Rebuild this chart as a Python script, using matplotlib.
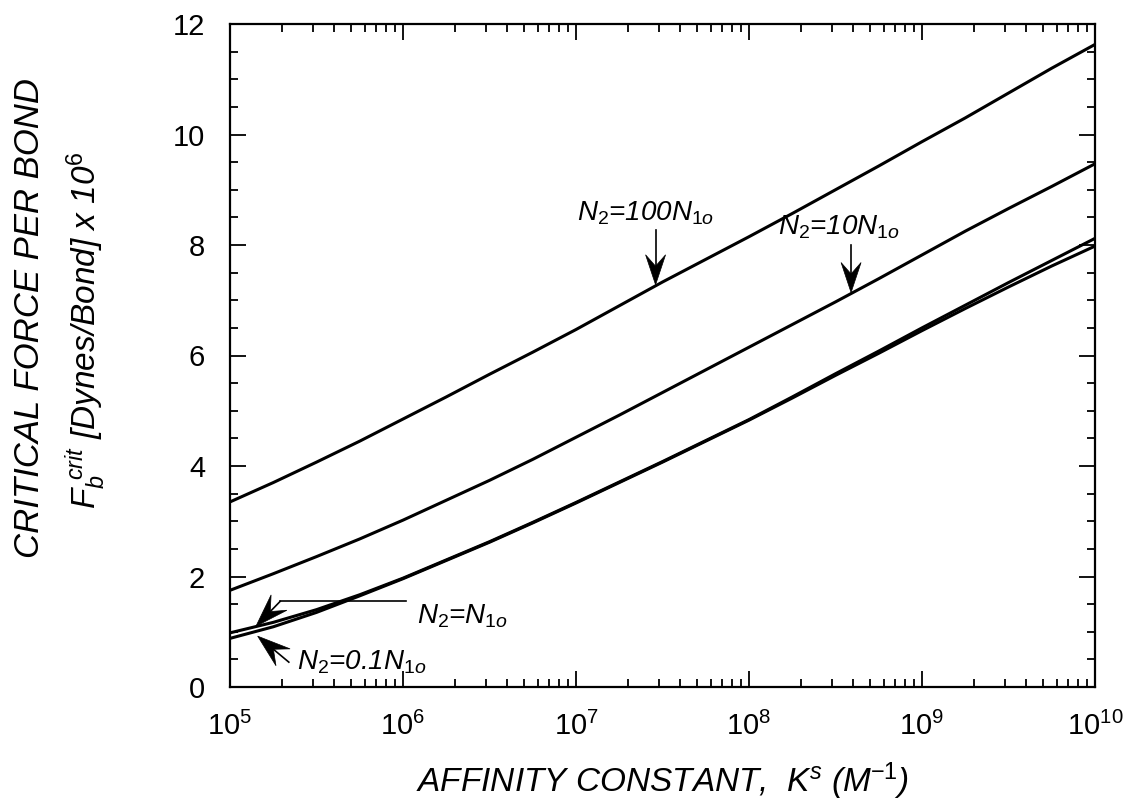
import numpy as np
import matplotlib
matplotlib.use("Agg")
import matplotlib.pyplot as plt
from matplotlib.ticker import MultipleLocator, LogLocator, NullFormatter
from matplotlib.patches import Polygon
from matplotlib.transforms import IdentityTransform

plt.rcParams['font.family'] = ['Liberation Sans', 'DejaVu Sans']
plt.rcParams['mathtext.fontset'] = 'custom'
plt.rcParams['mathtext.rm'] = 'Liberation Sans'
plt.rcParams['mathtext.it'] = 'Liberation Sans:italic'
plt.rcParams['mathtext.bf'] = 'Liberation Sans:bold'

# ---- data ----
log_K = [5.0, 5.25, 5.5, 5.75, 6.0, 6.25, 6.5, 6.75, 7.0, 7.25, 7.5,
         7.75, 8.0, 8.25, 8.5, 8.75, 9.0, 9.25, 9.5, 9.75, 10.0]
F_100N = [3.35, 3.70, 4.07, 4.45, 4.85, 5.25, 5.66, 6.06, 6.47, 6.90, 7.33,
          7.74, 8.15, 8.57, 9.00, 9.43, 9.87, 10.30, 10.75, 11.20, 11.63]
F_10N = [1.75, 2.05, 2.36, 2.68, 3.02, 3.38, 3.74, 4.12, 4.52, 4.92, 5.33,
         5.74, 6.15, 6.56, 6.97, 7.39, 7.82, 8.25, 8.66, 9.06, 9.47]
F_1N = [0.98, 1.17, 1.40, 1.67, 1.97, 2.30, 2.63, 2.98, 3.34, 3.71, 4.08,
        4.46, 4.84, 5.25, 5.67, 6.08, 6.50, 6.91, 7.32, 7.72, 8.12]
F_01N = [0.88, 1.09, 1.35, 1.65, 1.96, 2.29, 2.62, 2.97, 3.33, 3.70, 4.07,
         4.45, 4.83, 5.23, 5.64, 6.04, 6.45, 6.85, 7.24, 7.62, 7.98]

K = [10 ** v for v in log_K]

W_PX, H_PX = 1126, 807
fig = plt.figure(figsize=(W_PX / 100, H_PX / 100), dpi=100)
L, R, T, B = 230, 1095, 24, 687
ax = fig.add_axes([L / W_PX, 1 - B / H_PX, (R - L) / W_PX, (B - T) / H_PX])

for series in (F_100N, F_10N, F_1N, F_01N):
    ax.plot(K, series, color='black', lw=2.2, solid_capstyle='butt')

ax.set_xscale('log')
ax.set_xlim(1e5, 1e10)
ax.set_ylim(0, 12)
ax.xaxis.set_major_locator(LogLocator(base=10, numticks=20))
ax.xaxis.set_minor_locator(LogLocator(base=10, subs=np.arange(2, 10), numticks=100))
ax.xaxis.set_minor_formatter(NullFormatter())
ax.yaxis.set_major_locator(MultipleLocator(2))
ax.yaxis.set_minor_locator(MultipleLocator(0.5))

ax.tick_params(which='both', direction='in', top=True, right=True, width=1.3, color='black')
ax.tick_params(which='major', length=11.5, labelsize=21, pad=18)
ax.tick_params(which='minor', length=6)
for s in ax.spines.values():
    s.set_linewidth(1.6)

ax.set_xlabel(r'AFFINITY CONSTANT,  K$^{s}$ (M$^{-1}$)', fontsize=24, style='italic',
              labelpad=14)

fig.text(30 / W_PX, 1 - 318 / H_PX, 'CRITICAL FORCE PER BOND', rotation=90, fontsize=25,
         style='italic', ha='center', va='center')
fig.text(86 / W_PX, 1 - 330 / H_PX,
         r'$F_{b}^{\ crit}$ [Dynes/Bond] x 10$^{6}$', rotation=90, fontsize=24,
         style='italic', ha='center', va='center')

plt.rcParams['mathtext.default'] = 'it'
ann_fs = 20


def barbed_arrow(tail, tip, head_len=30, half_w=10, notch=0.62, lw=1.2):
    """Draw a thin shaft with a filled, swept-back arrowhead (pixel sizes)."""
    p0 = ax.transData.transform(tail)
    p1 = ax.transData.transform(tip)
    d = p1 - p0
    d = d / np.hypot(*d)
    n = np.array([-d[1], d[0]])
    base = p1 - head_len * d
    notch_pt = p1 - notch * head_len * d
    shaft_end = ax.transData.inverted().transform(notch_pt)
    ax.plot([tail[0], shaft_end[0]], [tail[1], shaft_end[1]], color='black', lw=lw)
    poly = Polygon([p1, base + half_w * n, notch_pt, base - half_w * n], closed=True,
                   facecolor='black', edgecolor='black', lw=0.5,
                   transform=IdentityTransform())
    fig.add_artist(poly)


barbed_arrow((10 ** 7.46, 8.28), (10 ** 7.46, 7.28))
ax.text(10 ** 7.40, 8.32, r'$N_{2}$=100$N_{1o}$', fontsize=ann_fs, style='italic',
        ha='center', va='bottom')

barbed_arrow((10 ** 8.59, 8.0), (10 ** 8.59, 7.14))
ax.text(10 ** 8.52, 8.08, r'$N_{2}$=10$N_{1o}$', fontsize=ann_fs, style='italic',
        ha='center', va='bottom')

ax.plot([10 ** 5.29, 10 ** 6.02], [1.55, 1.55], color='black', lw=1.2)
barbed_arrow((10 ** 5.29, 1.55), (10 ** 5.15, 1.10), head_len=33, half_w=11)
ax.text(10 ** 6.08, 1.28, r'$N_{2}$=$N_{1o}$', fontsize=ann_fs, style='italic',
        ha='left', va='center')

barbed_arrow((10 ** 5.34, 0.45), (10 ** 5.16, 0.92), head_len=33, half_w=11)
ax.text(10 ** 5.39, 0.45, r'$N_{2}$=0.1$N_{1o}$', fontsize=ann_fs, style='italic',
        ha='left', va='center')

fig.savefig('out.png', dpi=100)
